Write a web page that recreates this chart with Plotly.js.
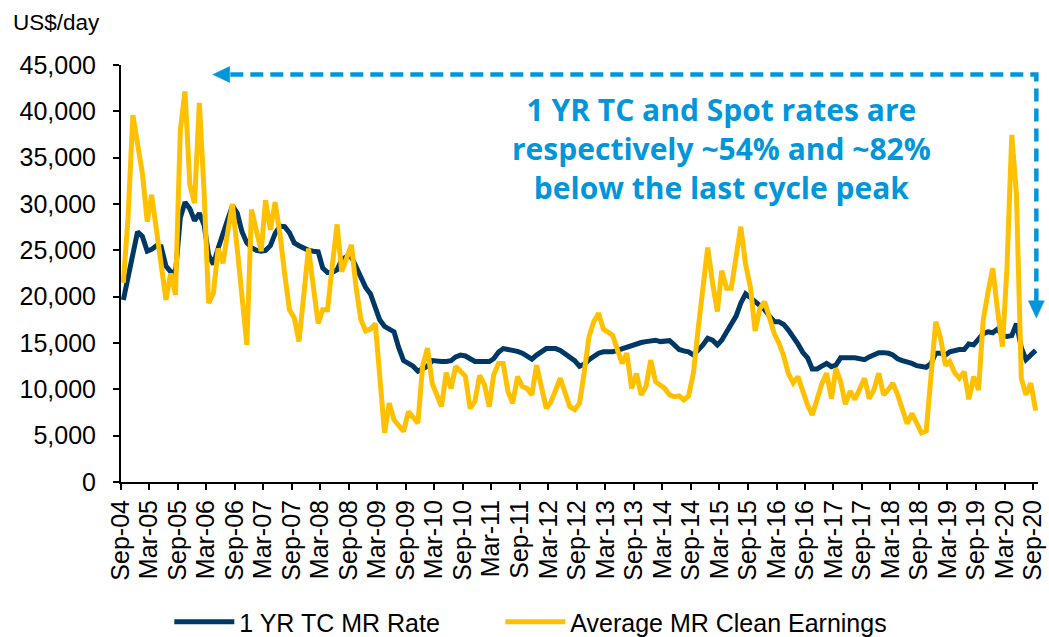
<!DOCTYPE html>
<html>
<head>
<meta charset="utf-8">
<script src="https://cdn.plot.ly/plotly-3.0.1.min.js"></script>
<style>
  html, body { margin: 0; padding: 0; background: #ffffff; }
  #chart { width: 1049px; height: 637px; }
</style>
</head>
<body>
<div id="chart"></div>
<script>
// Monthly series, Sep-2004 .. Sep-2020 (193 months), US$/day
var startYear = 2004, startMonth = 9, monthCount = 193;

var tcRate = [ // 1 YR TC MR Rate
  19650, 22000, 25000, 27000, 26500, 24900, 25100, 25500, 25400, 23300, 22700, 22600,
  28500, 30200, 29500, 28200, 29000, 27700, 24500, 23500, 25200, 27000, 28300, 29800,
  29000, 27000, 25800, 25300, 25000, 24900, 25000, 25500, 26800, 27600, 27550, 26900,
  25800, 25500, 25200, 25000, 24900, 24850, 23100, 22600, 22600, 22900, 24000, 24300,
  24300, 23300, 22000, 21000, 20300, 18700, 17500, 16800, 16500, 16200, 14500, 13100,
  12800, 12500, 11950, 12200, 12500, 13100, 13000, 13000, 13000, 13100, 13500, 13700,
  13600, 13300, 13000, 13000, 13000, 13000, 13300, 14000, 14400, 14300, 14250, 14100,
  13900, 13600, 13250, 13700, 14100, 14400, 14400, 14400, 14200, 13800, 13500, 13100,
  12500, 12700, 13200, 13500, 13900, 14050, 14050, 14050, 14200, 14400, 14600, 14800,
  14950, 15050, 15150, 15250, 15300, 15150, 15200, 15250, 14800, 14300, 14150, 14050,
  13700, 14200, 14800, 15500, 15300, 14800, 15300, 16200, 17100, 17900, 19300, 20300,
  19900, 19500, 19000, 18600, 17900, 17300, 17300, 17000, 16400, 15700, 14900, 14000,
  13400, 12200, 12200, 12500, 12800, 12450, 12600, 13400, 13450, 13400, 13400, 13350,
  13200, 13500, 13800, 13950, 13960, 13900, 13700, 13300, 13100, 13000, 12800, 12550,
  12400, 12380, 12800, 13900, 13900, 13700, 14050, 14200, 14300, 14300, 14900, 14800,
  15400, 16000, 16200, 16100, 16500, 15800, 15700, 15800, 17100, 14500, 13200, 13700,
  14200
];

var spotEarnings = [ // Average MR Clean Earnings
  21500, 28500, 39600, 36200, 33300, 28100, 31000, 27200, 23250, 19650, 22500, 20200,
  38000, 42150, 32100, 30100, 40900, 31000, 19300, 20400, 25200, 23600, 26900, 30000,
  25100, 20000, 14800, 29400, 27000, 24900, 30400, 27200, 30200, 26800, 22500, 18600,
  17700, 15150, 20200, 25200, 21100, 17100, 18600, 18600, 23250, 27800, 22700, 24100,
  25600, 21000, 17500, 16300, 16500, 17100, 11000, 5300, 8500, 6700, 6100, 5450,
  7600, 7000, 6350, 12500, 14450, 10600, 9550, 8150, 11800, 10100, 12500, 11900,
  11400, 7950, 8700, 11500, 10500, 8130, 11550, 12800, 12800, 9750, 8500, 11370,
  10300, 10100, 9400, 12600, 10300, 7950, 8600, 10000, 11200, 9600, 8130, 7800,
  8500, 11800, 15700, 17300, 18200, 16500, 16200, 15850, 14300, 12800, 13900, 10100,
  11700, 9400, 10300, 13150, 10830, 10500, 10100, 9400, 9200, 9300, 8850, 9300,
  11800, 16500, 21000, 25300, 21500, 18400, 22800, 20900, 20900, 24500, 27550, 23500,
  21000, 16300, 18750, 19450, 17500, 16000, 15000, 13600, 11700, 10700, 11370, 9800,
  8300, 7230, 9200, 10600, 11730, 9000, 12270, 10830, 8400, 9800, 8900, 10000,
  11200, 9000, 10000, 11730, 9400, 10000, 10650, 9400, 8000, 6300, 7400, 6400,
  5300, 5500, 11500, 17300, 15500, 12600, 13000, 11800, 11200, 11900, 8920, 11370,
  9930, 17480, 20500, 23060, 18500, 14600, 23000, 37450, 31000, 11200, 9400, 10650,
  7700
];

var seriesNames = ['1 YR TC MR Rate', 'Average MR Clean Earnings'];
var yTickVals = [0, 5000, 10000, 15000, 20000, 25000, 30000, 35000, 40000, 45000];
var noteText = '1 YR TC and Spot rates are<br>respectively ~54% and ~82%<br>below the last cycle peak';

// month categories (plotted mid-month)
var months = [];
for (var i = 0; i < monthCount; i++) {
  var m0 = startMonth - 1 + i;
  var yy = startYear + Math.floor(m0 / 12);
  var mm = (m0 % 12) + 1;
  months.push(yy + '-' + (mm < 10 ? '0' + mm : mm) + '-16');
}

var NAVY = '#003865';
var GOLD = '#FFC000';
var NOTE = '#0096DB';
var FONT = '"Liberation Sans", Arial, sans-serif';
var FS = 25;

var traces = [
  { x: months, y: tcRate, name: seriesNames[0], type: 'scatter', mode: 'lines',
    line: { color: NAVY, width: 5 }, legend: 'legend' },
  { x: months, y: spotEarnings, name: seriesNames[1], type: 'scatter', mode: 'lines',
    line: { color: GOLD, width: 5 }, legend: 'legend2' }
];

function legendBox(xpx) {
  return {
    orientation: 'h', xref: 'paper', yref: 'container',
    x: (xpx - 120.7) / 917, xanchor: 'left', y: 1 - 622 / 637, yanchor: 'middle',
    font: { family: FONT, size: FS, color: '#000' },
    itemwidth: 60, bgcolor: 'rgba(0,0,0,0)', borderwidth: 0
  };
}

var layout = {
  width: 1049, height: 637,
  margin: { l: 121, r: 11, t: 65, b: 155, pad: 0, autoexpand: false },
  paper_bgcolor: '#ffffff', plot_bgcolor: '#ffffff',
  font: { family: FONT, color: '#000000', size: FS },
  showlegend: true,
  title: { text: 'US$/day', font: { family: FONT, size: 22.5, color: '#000000' },
           xref: 'container', yref: 'container', x: 13 / 1049, xanchor: 'left',
           y: 1 - 22 / 637, yanchor: 'middle' },
  xaxis: {
    type: 'date', automargin: false,
    range: ['2004-09-01', '2020-10-01'],
    tickmode: 'linear', tick0: '2004-09-01', dtick: 'M6',
    tickformat: '%b-%y', tickangle: -90,
    ticks: 'outside', ticklen: 6, tickwidth: 2, tickcolor: '#000',
    showline: true, linecolor: '#000', linewidth: 2,
    showgrid: false, zeroline: false,
    tickfont: { family: FONT, size: FS, color: '#000' }
  },
  yaxis: {
    range: [0, 45000], automargin: false,
    tickmode: 'array', tickvals: yTickVals, tickformat: ',d',
    ticks: 'outside', ticklen: 6, tickwidth: 2, tickcolor: '#000',
    showline: true, linecolor: '#000', linewidth: 2,
    showgrid: false, zeroline: false,
    ticklabelstandoff: 12,
    tickfont: { family: FONT, size: FS, color: '#000' }
  },
  legend: legendBox(169),
  legend2: legendBox(500),
  annotations: [
    { xref: 'paper', yref: 'paper', x: 0.655, y: 0.80, xanchor: 'center', yanchor: 'middle',
      text: '<b>' + noteText.split('<br>').join('</b><br><b>') + '</b>',
      showarrow: false, align: 'center',
      font: { family: '"Open Sans", "Noto Sans", sans-serif', size: 30, color: NOTE } }
  ],
  shapes: [
    { type: 'path', xref: 'paper', yref: 'paper',
      path: 'M 0.1192 0.9772 L 0.9982 0.9772 L 0.9982 0.4317',
      line: { color: NOTE, width: 4.5, dash: '13px,7px' } },
    { type: 'path', xref: 'paper', yref: 'paper',
      path: 'M 0.1001 0.9772 L 0.1185 0.9964 L 0.1185 0.9580 Z',
      fillcolor: NOTE, line: { color: NOTE, width: 0.5 } },
    { type: 'path', xref: 'paper', yref: 'paper',
      path: 'M 0.9982 0.3933 L 0.9895 0.4345 L 1.0069 0.4345 Z',
      fillcolor: NOTE, line: { color: NOTE, width: 0.5 } }
  ]
};

Plotly.newPlot('chart', traces, layout, { displayModeBar: false, responsive: false });
</script>
</body>
</html>
